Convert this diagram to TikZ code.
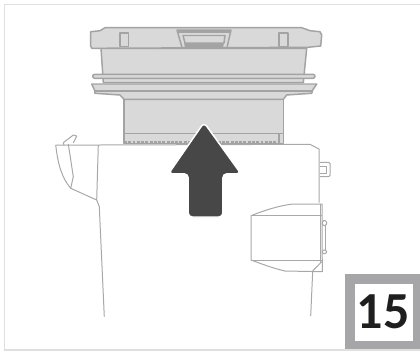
\documentclass[tikz,border=0pt]{standalone}
\usepackage{fontspec}
\setmainfont{Carlito}
\usepackage{xcolor}
\usetikzlibrary{positioning}
\definecolor{lidfill}{HTML}{D9D9D9}
\definecolor{lidline}{HTML}{A3A3A3}
\definecolor{bodyline}{HTML}{A8A8A8}
\definecolor{arrowfill}{HTML}{474747}
\definecolor{badgegray}{HTML}{A6A6A8}
\tikzset{
    lid/.style={draw=lidline, fill=lidfill, line width=1.1pt, line join=round},
    body/.style={draw=bodyline, line width=0.75pt, line join=round},
}

\begin{document}
\begin{tikzpicture}[x=0.75pt, y=-0.75pt]
    \useasboundingbox (0,0) rectangle (420,351);
    \draw[gray!25, line width=1pt] (420,4.5) -- (4.5,4.5) -- (4.5,350) -- (420,350);

    % lower part of the lid
    \draw[lid] (124,99.3) -- (283.3,99.3) -- (283.3,143.5) -- (124,143.5) -- cycle;
    \draw[lid] (124,133.3) -- (283.3,133.3);
    \draw[lidline, line width=2.2pt, densely dotted] (124,142.5) -- (278,142.5);
    \draw[lid] (279,133.3) -- (279,143.5);
    % flange and rings
    \draw[lid] (101,48.3) -- (103.3,82.7) -- (303.3,82.7) -- (306.7,48.3) -- cycle;
    \draw[lid, rounded corners=1.5pt] (92.7,74.3) rectangle (315,78.3);
    \draw[lid] (91.7,84) -- (316.7,84) -- (312.7,90) -- (311.7,93.3) -- (286.7,95)
        -- (283.3,99.3) -- (124,99.3) -- (120,95) -- (95,93.3) -- (94.5,90) -- cycle;
    \draw[lid] (95,91) -- (312,91);
    % top of the lid
    \draw[lid] (90.7,31.7) -- (100,30.7) -- (105,27.7) -- (301.7,27.7) -- (310,30.7)
        -- (320,31.7) -- (321.7,35) -- (320.7,46) -- (308,47.3) -- (91.7,48.3) -- (90.7,46) -- cycle;
    \draw[lid] (120,33) rectangle (128.5,46.5);
    \draw[lid] (279,33) rectangle (288,46.5);
    \draw[lid] (177,30) -- (231,30) -- (227,47.5) -- (182,47.5) -- cycle;
    \fill[lidline] (177,29.5) rectangle (231,32.5);
    \fill[lidline] (184,43) -- (224,43) -- (223,47.5) -- (185,47.5) -- cycle;
    \draw[lid] (183,35.5) -- (225,35.5) -- (224,43) -- (185,43) -- cycle;

    % machine
    \draw[body, fill=white] (55.7,145) -- (98.3,145) -- (310,144.3) -- (319,149) -- (319,202.7);
    \draw[body] (55.7,145) .. controls (58,165) and (62,178) .. (70.7,188.3) -- (96.7,200)
        -- (98.3,145);
    \draw[body] (68.3,144) -- (73.3,176.7) -- (70.7,188.3);
    \draw[body] (96.7,200) -- (99.3,206.7) -- (104.3,316.7);
    \draw[body] (63.3,142.7) -- (73.3,135) -- (76.7,136) -- (73.3,143);
    \draw[body] (63.3,142.7) -- (64,145);
    \draw[body, rounded corners=1pt] (320,162.3) -- (330,162.3) -- (330,176.7) -- (320,176.7);
    \draw[body] (320,166) -- (326.5,166) -- (326.5,173.3) -- (320,173.3);
    % drawer
    \draw[body] (251,215.7) .. controls (265,210) and (280,205.5) .. (292.7,204) -- (322,204)
        -- (322.3,271.7) -- (285,271) .. controls (272,268) and (262,264) .. (251,260) -- cycle;
    \draw[body] (251,215.7) -- (321.7,215.7);
    \draw[body] (251,260) -- (321.7,260);
    \draw[body] (320,204) -- (320,262);
    \draw[body, rounded corners=1pt] (322.3,220.7) rectangle (326.5,225.5);
    \draw[body, rounded corners=1pt] (322.3,250) rectangle (326.5,253.7);
    \draw[body] (325.5,225.5) -- (325.5,250);
    \draw[body] (321.7,261.7) -- (312.7,271) -- (310.7,316);

    % up arrow
    \draw[fill=arrowfill, draw=white, line width=1.1pt, rounded corners=3pt]
        (204,122.5) -- (241,173.8) -- (222.9,173.8) -- (222.9,217) -- (188.2,217)
        -- (188.2,173.8) -- (168.5,173.8) -- cycle;

    % step number
    \fill[badgegray] (345,274) rectangle (420,349);
    \fill[white] (355,284) rectangle (412.5,340.5);
    \node[font=\fontsize{39}{39}\selectfont\bfseries, text=black!88] (stepnum) at (383,311.5) {15};
\end{tikzpicture}
\end{document}
